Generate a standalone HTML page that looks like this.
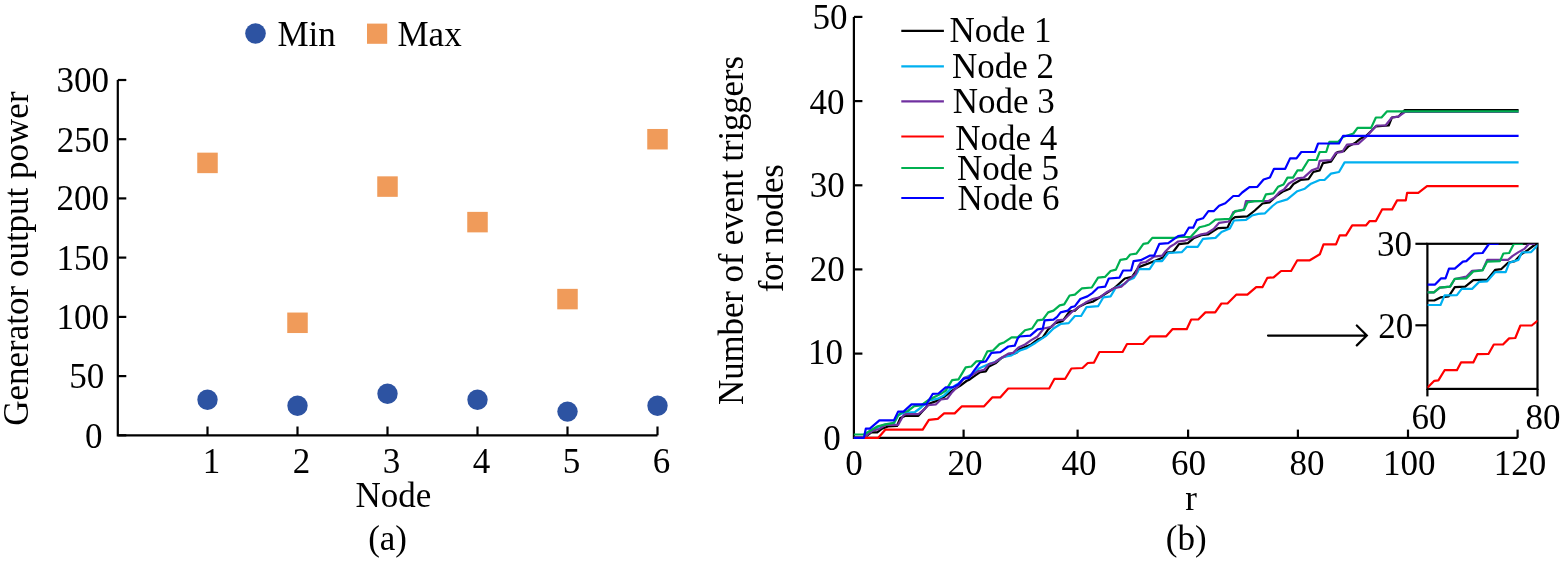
<!DOCTYPE html>
<html><head><meta charset="utf-8"><title>Figure</title>
<style>
html,body{margin:0;padding:0;background:#fff;}
body{width:1560px;height:561px;overflow:hidden;}
svg{display:block;font-family:"Liberation Serif","Times New Roman",serif;}
</style></head>
<body>
<svg width="1560" height="561" viewBox="0 0 1560 561">
<rect width="1560" height="561" fill="#fff"/>
<path d="M117.8,80.0 L117.8,435.3 L657.5,435.3" fill="none" stroke="#000" stroke-width="2.2"/>
<line x1="117.8" y1="435.3" x2="126.3" y2="435.3" stroke="#000" stroke-width="2.2"/>
<text transform="translate(102.4,447.7) scale(1,1.0)" text-anchor="end" font-size="35" >0</text>
<line x1="117.8" y1="376.1" x2="126.3" y2="376.1" stroke="#000" stroke-width="2.2"/>
<text transform="translate(104.3,388.0) scale(1,1.0)" text-anchor="end" font-size="35" >50</text>
<line x1="117.8" y1="316.9" x2="126.3" y2="316.9" stroke="#000" stroke-width="2.2"/>
<text transform="translate(109.0,328.8) scale(1,1.0)" text-anchor="end" font-size="35" >100</text>
<line x1="117.8" y1="257.6" x2="126.3" y2="257.6" stroke="#000" stroke-width="2.2"/>
<text transform="translate(109.1,269.6) scale(1,1.0)" text-anchor="end" font-size="35" >150</text>
<line x1="117.8" y1="198.4" x2="126.3" y2="198.4" stroke="#000" stroke-width="2.2"/>
<text transform="translate(109.0,210.3) scale(1,1.0)" text-anchor="end" font-size="35" >200</text>
<line x1="117.8" y1="139.2" x2="126.3" y2="139.2" stroke="#000" stroke-width="2.2"/>
<text transform="translate(109.2,151.6) scale(1,1.0)" text-anchor="end" font-size="35" >250</text>
<line x1="117.8" y1="80.0" x2="126.3" y2="80.0" stroke="#000" stroke-width="2.2"/>
<text transform="translate(109.0,91.8) scale(1,1.0)" text-anchor="end" font-size="35" >300</text>
<line x1="207.5" y1="435.3" x2="207.5" y2="426.5" stroke="#000" stroke-width="2.2"/>
<text transform="translate(211.5,472.5) scale(1,1.0)" text-anchor="middle" font-size="35" >1</text>
<line x1="297.5" y1="435.3" x2="297.5" y2="426.5" stroke="#000" stroke-width="2.2"/>
<text transform="translate(301.5,472.5) scale(1,1.0)" text-anchor="middle" font-size="35" >2</text>
<line x1="387.5" y1="435.3" x2="387.5" y2="426.5" stroke="#000" stroke-width="2.2"/>
<text transform="translate(391.5,472.5) scale(1,1.0)" text-anchor="middle" font-size="35" >3</text>
<line x1="477.5" y1="435.3" x2="477.5" y2="426.5" stroke="#000" stroke-width="2.2"/>
<text transform="translate(481.5,472.5) scale(1,1.0)" text-anchor="middle" font-size="35" >4</text>
<line x1="567.5" y1="435.3" x2="567.5" y2="426.5" stroke="#000" stroke-width="2.2"/>
<text transform="translate(571.5,472.5) scale(1,1.0)" text-anchor="middle" font-size="35" >5</text>
<line x1="657.5" y1="435.3" x2="657.5" y2="426.5" stroke="#000" stroke-width="2.2"/>
<text transform="translate(661.5,472.5) scale(1,1.0)" text-anchor="middle" font-size="35" >6</text>
<text transform="translate(393.3,506.9) scale(1,1.0)" text-anchor="middle" font-size="35" >Node</text>
<text transform="translate(387.6,549.5) scale(1,1.0)" text-anchor="middle" font-size="35" >(a)</text>
<text transform="translate(27.8,258.6) rotate(-90) scale(1,1.0)" text-anchor="middle" font-size="35">Generator output power</text>
<circle cx="207.5" cy="399.8" r="10.2" fill="#2d53a2"/>
<rect x="197.25" y="152.65" width="20.5" height="20.5" fill="#f09b5a"/>
<circle cx="297.5" cy="405.7" r="10.2" fill="#2d53a2"/>
<rect x="287.25" y="312.54" width="20.5" height="20.5" fill="#f09b5a"/>
<circle cx="387.5" cy="393.8" r="10.2" fill="#2d53a2"/>
<rect x="377.25" y="176.34" width="20.5" height="20.5" fill="#f09b5a"/>
<circle cx="477.5" cy="399.8" r="10.2" fill="#2d53a2"/>
<rect x="467.25" y="211.87" width="20.5" height="20.5" fill="#f09b5a"/>
<circle cx="567.5" cy="411.6" r="10.2" fill="#2d53a2"/>
<rect x="557.25" y="288.85" width="20.5" height="20.5" fill="#f09b5a"/>
<circle cx="657.5" cy="405.7" r="10.2" fill="#2d53a2"/>
<rect x="647.25" y="128.97" width="20.5" height="20.5" fill="#f09b5a"/>
<circle cx="255.5" cy="33.5" r="10.3" fill="#2d53a2"/>
<text transform="translate(277.5,45.6) scale(1,1.0)" text-anchor="start" font-size="35" >Min</text>
<rect x="367" y="23.6" width="20.2" height="20.2" fill="#f09b5a"/>
<text transform="translate(397.5,45.6) scale(1,1.0)" text-anchor="start" font-size="35" >Max</text>
<path d="M853.9,16.9 L853.9,437.8 L1517.6,437.8" fill="none" stroke="#000" stroke-width="2.2"/>
<line x1="853.9" y1="437.8" x2="862.4" y2="437.8" stroke="#000" stroke-width="2.2"/>
<text transform="translate(840.8,450.4) scale(1,1.0)" text-anchor="end" font-size="35" >0</text>
<line x1="853.9" y1="353.6" x2="862.4" y2="353.6" stroke="#000" stroke-width="2.2"/>
<text transform="translate(843.1,364.3) scale(1,1.0)" text-anchor="end" font-size="35" >10</text>
<line x1="853.9" y1="269.4" x2="862.4" y2="269.4" stroke="#000" stroke-width="2.2"/>
<text transform="translate(844.7,280.6) scale(1,1.0)" text-anchor="end" font-size="35" >20</text>
<line x1="853.9" y1="185.3" x2="862.4" y2="185.3" stroke="#000" stroke-width="2.2"/>
<text transform="translate(844.8,197.2) scale(1,1.0)" text-anchor="end" font-size="35" >30</text>
<line x1="853.9" y1="101.1" x2="862.4" y2="101.1" stroke="#000" stroke-width="2.2"/>
<text transform="translate(844.5,113.6) scale(1,1.0)" text-anchor="end" font-size="35" >40</text>
<line x1="853.9" y1="16.9" x2="862.4" y2="16.9" stroke="#000" stroke-width="2.2"/>
<text transform="translate(847.5,28.7) scale(1,1.0)" text-anchor="end" font-size="35" >50</text>
<text transform="translate(854.1,474.8) scale(1,1.0)" text-anchor="middle" font-size="35" >0</text>
<line x1="963.6" y1="437.8" x2="963.6" y2="429.6" stroke="#000" stroke-width="2.2"/>
<text transform="translate(965.1,474.8) scale(1,1.0)" text-anchor="middle" font-size="35" >20</text>
<line x1="1077.6" y1="437.8" x2="1077.6" y2="429.6" stroke="#000" stroke-width="2.2"/>
<text transform="translate(1078.9,474.8) scale(1,1.0)" text-anchor="middle" font-size="35" >40</text>
<line x1="1188.1" y1="437.8" x2="1188.1" y2="429.6" stroke="#000" stroke-width="2.2"/>
<text transform="translate(1188.6,474.8) scale(1,1.0)" text-anchor="middle" font-size="35" >60</text>
<line x1="1297.9" y1="437.8" x2="1297.9" y2="429.6" stroke="#000" stroke-width="2.2"/>
<text transform="translate(1307.0,474.8) scale(1,1.0)" text-anchor="middle" font-size="35" >80</text>
<line x1="1408.0" y1="437.8" x2="1408.0" y2="429.6" stroke="#000" stroke-width="2.2"/>
<text transform="translate(1409.3,474.8) scale(1,1.0)" text-anchor="middle" font-size="35" >100</text>
<line x1="1517.6" y1="437.8" x2="1517.6" y2="429.6" stroke="#000" stroke-width="2.2"/>
<text transform="translate(1519.9,474.8) scale(1,1.0)" text-anchor="middle" font-size="35" >120</text>
<text transform="translate(1191.0,509.8) scale(1,1.0)" text-anchor="middle" font-size="35" >r</text>
<text transform="translate(1186.2,549.5) scale(1,1.0)" text-anchor="middle" font-size="35" >(b)</text>
<text transform="translate(743,230.4) rotate(-90) scale(1,1.0)" text-anchor="middle" font-size="35" textLength="349" lengthAdjust="spacing">Number of event triggers</text>
<text transform="translate(783.3,228.2) rotate(-90) scale(1,1.0)" text-anchor="middle" font-size="35" textLength="128" lengthAdjust="spacing">for nodes</text>
<line x1="901.3" y1="30.9" x2="943.9" y2="30.9" stroke="#000000" stroke-width="2.2"/>
<text transform="translate(949.5,41.8) scale(1,1.0)" text-anchor="start" font-size="35" >Node 1</text>
<line x1="901.3" y1="66.3" x2="943.9" y2="66.3" stroke="#00b0f0" stroke-width="2.2"/>
<text transform="translate(952.0,78.0) scale(1,1.0)" text-anchor="start" font-size="35" >Node 2</text>
<line x1="901.3" y1="101.3" x2="943.9" y2="101.3" stroke="#7030a0" stroke-width="2.2"/>
<text transform="translate(952.7,113.4) scale(1,1.0)" text-anchor="start" font-size="35" >Node 3</text>
<line x1="901.3" y1="136.5" x2="943.9" y2="136.5" stroke="#ff0000" stroke-width="2.2"/>
<text transform="translate(955.2,149.6) scale(1,1.0)" text-anchor="start" font-size="35" >Node 4</text>
<line x1="901.3" y1="168.0" x2="943.9" y2="168.0" stroke="#00b050" stroke-width="2.2"/>
<text transform="translate(956.9,180.0) scale(1,1.0)" text-anchor="start" font-size="35" >Node 5</text>
<line x1="901.3" y1="198.0" x2="943.9" y2="198.0" stroke="#0000ff" stroke-width="2.2"/>
<text transform="translate(957.4,209.9) scale(1,1.0)" text-anchor="start" font-size="35" >Node 6</text>
<rect x="1427.4" y="243.8" width="110.1" height="145.1" fill="none" stroke="#000" stroke-width="2.2"/>
<line x1="1415.4" y1="243.8" x2="1427.4" y2="243.8" stroke="#000" stroke-width="2.2"/>
<line x1="1415.4" y1="325.3" x2="1427.4" y2="325.3" stroke="#000" stroke-width="2.2"/>
<line x1="1427.4" y1="388.9" x2="1427.4" y2="396.4" stroke="#000" stroke-width="2.2"/>
<line x1="1537.5" y1="388.9" x2="1537.5" y2="396.4" stroke="#000" stroke-width="2.2"/>
<text transform="translate(1412.0,256.2) scale(1,1.0)" text-anchor="end" font-size="35" >30</text>
<text transform="translate(1413.2,337.8) scale(1,1.0)" text-anchor="end" font-size="35" >20</text>
<text transform="translate(1428.9,428.5) scale(1,1.0)" text-anchor="middle" font-size="35" >60</text>
<text transform="translate(1543.0,428.5) scale(1,1.0)" text-anchor="middle" font-size="35" >80</text>
<path d="M1268,335.6 L1366.5,335.6 M1356.8,325.5 L1366.8,335.6 L1356.8,345.4" fill="none" stroke="#000" stroke-width="2.2" stroke-linecap="round"/>
<defs><clipPath id="ic"><rect x="1427.4" y="243.8" width="110.1" height="145.1"/></clipPath></defs>
<path d="M853.9,437.8 L864.0,437.8 L871.4,432.4 L877.3,432.4 L882.0,428.7 L888.0,426.5 L897.0,426.0 L900.3,418.0 L905.6,415.8 L918.4,415.8 L924.5,409.1 L929.6,403.5 L936.1,401.1 L944.1,397.0 L952.1,390.6 L960.1,385.8 L966.5,381.0 L969.8,379.4 L975.4,375.4 L980.2,372.2 L985.8,371.4 L989.0,366.5 L995.4,363.3 L1001.9,357.7 L1009.9,354.5 L1016.3,352.9 L1020.0,348.9 L1031.2,344.5 L1038.3,339.2 L1042.8,337.4 L1048.2,329.4 L1055.3,323.1 L1062.4,321.3 L1069.6,311.5 L1074.9,310.6 L1078.5,307.1 L1085.6,303.5 L1092.7,301.7 L1099.9,297.3 L1107.0,292.8 L1114.1,288.3 L1124.8,278.5 L1132.0,276.8 L1138.2,267.8 L1140.7,266.4 L1147.8,263.7 L1163.0,257.5 L1165.6,252.7 L1172.8,252.2 L1176.3,247.7 L1179.0,244.1 L1187.9,243.2 L1194.1,237.9 L1201.3,235.2 L1208.4,234.3 L1213.7,230.8 L1218.2,228.1 L1227.5,227.6 L1231.0,220.0 L1235.0,217.2 L1247.5,216.3 L1254.8,210.5 L1262.5,203.5 L1269.5,202.5 L1277.0,195.5 L1283.6,191.2 L1289.8,188.7 L1293.5,184.0 L1300.5,180.0 L1308.5,179.2 L1313.3,172.0 L1319.7,170.4 L1322.9,163.2 L1331.0,161.6 L1337.4,152.0 L1343.8,151.2 L1348.6,146.3 L1355.0,143.1 L1359.8,139.1 L1366.3,135.9 L1372.7,129.5 L1375.9,126.3 L1388.7,125.5 L1391.9,117.5 L1398.3,116.7 L1404.8,110.0 L1518.6,110.0" fill="none" stroke="#000000" stroke-width="2.2" stroke-linejoin="round" />
<path d="M853.9,437.8 L864.0,437.8 L870.0,432.0 L878.0,427.0 L885.0,424.5 L894.0,423.5 L898.1,415.5 L903.0,413.0 L915.0,412.0 L921.0,407.5 L929.6,400.3 L937.7,398.7 L944.1,395.4 L952.1,387.4 L958.5,383.4 L964.9,377.8 L973.0,373.8 L979.4,368.2 L989.0,364.1 L995.4,361.7 L1003.5,356.9 L1011.5,355.3 L1020.0,350.5 L1026.8,348.1 L1035.7,342.7 L1046.4,335.6 L1049.0,332.9 L1053.5,328.5 L1060.6,324.0 L1068.7,323.1 L1074.9,316.0 L1081.1,316.0 L1086.5,307.1 L1098.1,306.2 L1103.4,297.3 L1110.6,296.4 L1115.9,287.5 L1121.0,285.5 L1125.2,283.4 L1128.4,280.3 L1133.8,278.0 L1137.7,271.8 L1139.0,269.1 L1149.6,269.1 L1154.9,261.1 L1162.1,261.1 L1168.3,253.0 L1181.7,252.2 L1187.0,246.8 L1197.7,246.8 L1203.0,238.8 L1215.5,237.9 L1221.5,232.0 L1229.8,228.5 L1234.0,220.5 L1246.0,219.9 L1252.0,215.5 L1258.3,213.9 L1265.0,213.3 L1272.5,206.0 L1277.0,202.5 L1287.3,199.4 L1297.3,191.2 L1304.8,188.7 L1311.0,183.7 L1319.7,180.0 L1324.5,180.0 L1331.0,173.6 L1339.0,172.0 L1344.6,162.4 L1518.6,162.4" fill="none" stroke="#00b0f0" stroke-width="2.2" stroke-linejoin="round" />
<path d="M853.9,437.8 L863.9,437.8 L868.7,433.5 L873.0,430.3 L878.9,429.2 L882.1,427.1 L885.8,424.9 L898.1,424.9 L903.5,415.3 L905.6,414.2 L918.4,414.2 L924.9,408.9 L928.0,405.1 L936.1,404.3 L940.9,399.5 L947.3,398.7 L952.1,392.2 L958.5,385.8 L964.1,377.8 L968.2,377.0 L973.0,374.6 L977.8,371.4 L984.2,369.8 L989.0,364.1 L994.6,362.5 L1000.3,358.5 L1008.3,353.7 L1013.1,352.9 L1018.5,347.5 L1025.0,344.5 L1031.2,340.1 L1037.5,336.5 L1043.7,328.5 L1051.7,326.7 L1057.1,320.4 L1064.2,319.6 L1071.3,312.4 L1078.5,307.1 L1085.6,302.6 L1092.7,299.0 L1099.9,297.3 L1107.0,291.9 L1114.1,288.3 L1121.3,286.6 L1128.4,280.0 L1135.5,274.0 L1138.5,266.0 L1140.7,262.8 L1146.0,262.0 L1154.1,256.6 L1162.1,255.7 L1165.6,251.3 L1170.1,246.8 L1174.5,244.1 L1178.1,241.5 L1185.2,240.6 L1194.1,237.0 L1201.3,234.3 L1206.6,233.4 L1213.7,229.0 L1219.1,222.8 L1228.9,221.5 L1233.3,212.1 L1236.9,211.2 L1244.0,209.4 L1246.0,201.1 L1254.7,201.1 L1268.6,201.0 L1274.3,197.8 L1280.0,191.6 L1284.0,189.5 L1288.6,183.7 L1297.3,178.4 L1303.7,177.6 L1311.7,170.4 L1318.1,168.0 L1319.7,160.8 L1331.0,160.0 L1335.8,152.8 L1342.2,152.0 L1347.0,144.7 L1358.2,143.9 L1366.3,136.7 L1372.7,129.5 L1376.7,125.5 L1385.5,125.5 L1391.9,117.5 L1398.3,116.7 L1404.8,112.0 L1518.6,112.0" fill="none" stroke="#7030a0" stroke-width="2.2" stroke-linejoin="round" />
<path d="M853.9,437.8 L878.3,437.8 L885.3,429.7 L922.7,429.7 L928.9,419.8 L937.8,418.8 L944.1,413.4 L954.7,413.4 L961.9,406.3 L984.1,406.3 L992.2,397.4 L1000.2,397.4 L1008.2,388.5 L1049.2,388.5 L1054.5,378.8 L1065.2,378.8 L1071.4,368.5 L1082.5,368.0 L1087.8,363.0 L1094.0,362.6 L1099.4,352.0 L1122.6,352.0 L1127.0,344.0 L1143.0,344.0 L1150.2,336.3 L1166.2,336.3 L1172.4,329.2 L1186.7,329.2 L1191.2,319.5 L1198.3,319.5 L1205.4,312.4 L1215.2,312.4 L1221.4,303.5 L1227.5,303.5 L1236.2,294.7 L1247.4,294.7 L1256.2,287.2 L1262.4,287.2 L1267.4,277.8 L1273.6,277.3 L1281.1,271.0 L1291.1,271.0 L1297.3,260.3 L1309.8,260.3 L1319.8,254.3 L1323.5,244.3 L1336.0,244.3 L1339.7,235.4 L1346.0,235.4 L1352.2,225.4 L1365.9,225.4 L1369.7,221.1 L1375.9,221.1 L1382.1,209.4 L1392.1,209.4 L1397.1,200.4 L1405.8,200.4 L1407.1,192.9 L1418.3,192.9 L1427.0,186.2 L1518.6,186.2" fill="none" stroke="#ff0000" stroke-width="2.2" stroke-linejoin="round" />
<path d="M853.9,434.5 L863.9,434.5 L870.9,430.3 L877.8,426.2 L885.3,424.4 L893.9,422.8 L898.1,415.3 L901.3,412.6 L907.8,411.0 L914.2,406.2 L921.0,405.5 L928.0,400.3 L934.4,397.0 L940.9,393.8 L945.7,390.6 L952.1,380.2 L958.5,379.4 L965.7,367.4 L971.4,366.5 L976.2,361.4 L982.6,360.9 L987.4,351.3 L993.0,350.5 L999.5,344.1 L1004.5,342.2 L1011.6,337.4 L1017.8,337.4 L1025.0,330.3 L1032.1,328.5 L1037.5,320.4 L1042.8,319.6 L1048.2,312.4 L1053.5,310.6 L1059.7,305.3 L1064.2,304.4 L1069.6,295.5 L1074.9,294.6 L1082.0,288.3 L1091.8,287.5 L1098.1,277.6 L1105.2,276.8 L1110.6,271.0 L1115.9,269.6 L1120.4,259.8 L1126.6,258.9 L1130.2,254.5 L1136.4,253.6 L1143.4,243.8 L1147.8,243.2 L1152.3,237.9 L1174.5,237.9 L1179.9,237.0 L1190.6,237.0 L1199.5,227.2 L1204.8,226.0 L1209.3,224.5 L1215.5,219.6 L1229.8,218.8 L1235.1,211.2 L1244.0,209.8 L1247.6,202.3 L1254.7,201.2 L1263.0,200.8 L1266.0,194.3 L1273.4,193.4 L1278.0,186.8 L1283.5,184.5 L1287.5,177.6 L1293.0,177.6 L1297.5,170.4 L1302.1,170.4 L1308.5,160.0 L1316.5,160.0 L1319.7,152.0 L1326.2,152.0 L1329.4,141.8 L1338.2,141.8 L1343.0,137.0 L1353.4,133.5 L1357.5,127.9 L1371.1,127.9 L1375.9,117.5 L1381.5,117.5 L1387.1,111.3 L1518.6,111.3" fill="none" stroke="#00b050" stroke-width="2.2" stroke-linejoin="round" />
<path d="M853.9,437.8 L863.9,437.8 L865.8,428.7 L869.8,428.7 L879.4,420.4 L893.9,420.4 L898.1,411.6 L903.5,411.6 L911.5,404.4 L926.4,404.3 L932.8,393.8 L938.5,393.5 L945.7,387.4 L952.9,387.4 L958.5,384.2 L963.3,378.6 L969.0,377.8 L974.6,369.8 L980.2,362.5 L985.8,361.4 L991.4,352.9 L1000.3,352.1 L1008.3,346.5 L1014.7,345.7 L1017.8,338.3 L1019.6,336.5 L1030.3,335.6 L1037.5,329.4 L1042.8,328.5 L1044.6,320.4 L1053.5,319.6 L1057.1,316.9 L1060.6,312.4 L1067.8,310.6 L1071.3,307.1 L1074.9,306.2 L1080.3,299.0 L1087.4,296.4 L1092.7,292.8 L1098.1,287.5 L1105.2,286.6 L1108.8,278.5 L1119.5,277.6 L1123.1,270.5 L1131.1,270.5 L1133.6,261.1 L1140.7,260.2 L1149.6,255.7 L1154.1,255.7 L1159.4,243.8 L1168.3,243.2 L1178.1,236.1 L1184.3,235.2 L1188.8,227.7 L1193.2,227.7 L1196.8,220.1 L1203.0,218.3 L1208.4,211.2 L1213.7,211.2 L1219.1,205.8 L1225.3,203.2 L1233.3,196.0 L1238.7,196.0 L1242.2,192.5 L1249.4,187.1 L1257.4,186.8 L1263.6,179.5 L1269.9,177.5 L1274.0,168.8 L1285.2,168.8 L1290.1,158.4 L1296.5,158.4 L1301.3,152.0 L1314.9,152.0 L1318.1,143.5 L1339.0,143.5 L1343.0,135.9 L1518.6,135.9" fill="none" stroke="#0000ff" stroke-width="2.2" stroke-linejoin="round" />
<g clip-path="url(#ic)">
<path d="M1427.4,300.5 L1434.3,300.5 L1440.5,297.4 L1448.7,296.4 L1454.8,287.2 L1465.2,286.6 L1473.3,280.2 L1487.2,279.6 L1495.3,269.8 L1501.1,269.2 L1508.0,262.8 L1515.0,261.1 L1520.8,254.7 L1527.7,250.1 L1535.8,244.0 L1540.0,241.0" fill="none" stroke="#000000" stroke-width="2.2" stroke-linejoin="round" />
<path d="M1427.4,305.0 L1440.5,305.0 L1444.6,295.4 L1456.9,295.2 L1461.7,288.9 L1472.1,288.9 L1479.1,281.9 L1487.2,281.3 L1495.3,272.1 L1505.7,272.1 L1509.2,262.8 L1518.5,259.9 L1521.9,252.4 L1531.2,252.1 L1537.6,245.4 L1540.0,243.0" fill="none" stroke="#00b0f0" stroke-width="2.2" stroke-linejoin="round" />
<path d="M1427.4,292.3 L1433.9,292.3 L1439.7,287.7 L1450.1,286.6 L1454.8,279.0 L1466.3,276.7 L1472.1,270.9 L1482.6,270.0 L1487.2,259.9 L1508.0,259.9 L1512.7,255.9 L1518.5,252.1 L1524.3,248.9 L1528.9,244.0 L1534.0,244.0 L1538.0,237.0" fill="none" stroke="#7030a0" stroke-width="2.2" stroke-linejoin="round" />
<path d="M1427.4,387.6 L1434.3,380.8 L1438.4,380.4 L1444.6,370.2 L1456.9,370.2 L1461.0,362.4 L1473.3,362.4 L1477.4,354.2 L1488.6,353.8 L1493.8,344.5 L1503.0,344.5 L1509.1,338.4 L1515.3,338.0 L1520.4,325.5 L1531.7,325.5 L1537.8,320.6" fill="none" stroke="#ff0000" stroke-width="2.2" stroke-linejoin="round" />
<path d="M1427.4,292.3 L1433.9,292.3 L1439.7,287.7 L1450.1,286.6 L1454.8,278.8 L1466.3,278.4 L1473.3,271.5 L1482.6,270.3 L1487.2,261.6 L1499.9,261.1 L1503.4,253.5 L1509.2,253.0 L1513.8,244.0 L1521.9,244.0 L1526.0,236.0 L1540.0,236.0" fill="none" stroke="#00b050" stroke-width="2.2" stroke-linejoin="round" />
<path d="M1427.4,284.6 L1435.1,284.6 L1440.9,278.4 L1445.5,278.4 L1449.0,268.6 L1454.8,268.6 L1462.9,261.6 L1466.3,261.1 L1474.4,253.5 L1482.6,253.0 L1488.9,244.0 L1497.6,244.0 L1502.0,236.0 L1540.0,236.0" fill="none" stroke="#0000ff" stroke-width="2.2" stroke-linejoin="round" />
</g>
</svg>
</body></html>
